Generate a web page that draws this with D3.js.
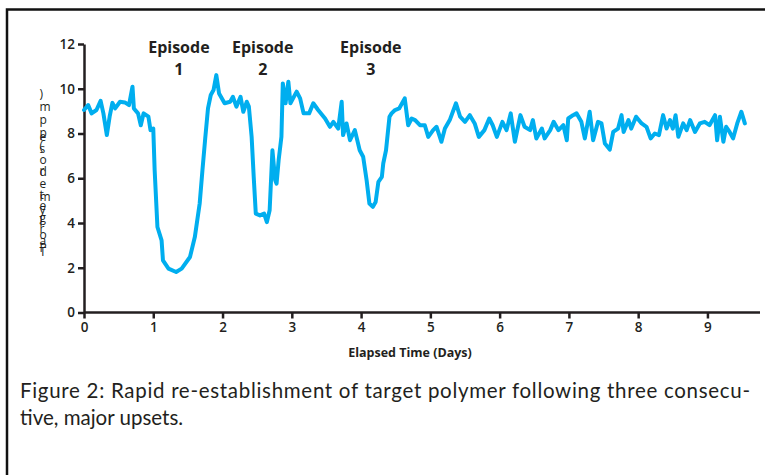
<!DOCTYPE html>
<html>
<head>
<meta charset="utf-8">
<script src="https://cdnjs.cloudflare.com/ajax/libs/d3/7.8.5/d3.min.js"></script>
<style>
  body { margin: 0; background: #fff; }
  text { font-family: "Open Sans", Lato, sans-serif; fill: #231f20; }
</style>
</head>
<body>
<div id="chart"></div>
<script>
// elapsed time (days) and polymer level (ppm)
const days = [0, 0.06, 0.11, 0.18, 0.24, 0.28, 0.33, 0.37, 0.41, 0.45, 0.52, 0.59, 0.65, 0.70, 0.72, 0.78, 0.82, 0.86, 0.93, 0.96,
  1.0, 1.02, 1.06, 1.12, 1.14, 1.22, 1.33, 1.41, 1.53, 1.60, 1.67, 1.71, 1.75, 1.79, 1.83, 1.87, 1.91, 1.95,
  2.03, 2.11, 2.15, 2.20, 2.26, 2.30, 2.35, 2.38, 2.42, 2.45, 2.48, 2.54, 2.60, 2.64, 2.68, 2.72, 2.76, 2.78, 2.81, 2.85, 2.87, 2.91, 2.95, 2.98,
  3.07, 3.12, 3.17, 3.25, 3.31, 3.38, 3.48, 3.55, 3.60, 3.67, 3.72, 3.74, 3.79, 3.84, 3.91, 3.98,
  4.03, 4.08, 4.12, 4.17, 4.21, 4.25, 4.30, 4.32, 4.36, 4.41, 4.44, 4.49, 4.55, 4.63, 4.68, 4.73, 4.78, 4.85, 4.92, 4.97,
  5.04, 5.09, 5.16, 5.21, 5.28, 5.37, 5.43, 5.50, 5.57, 5.64, 5.70, 5.78, 5.85, 5.90, 5.96,
  6.04, 6.10, 6.16, 6.22, 6.30, 6.36, 6.44, 6.48, 6.53, 6.61, 6.65, 6.73, 6.78, 6.85, 6.92, 6.97, 6.99,
  7.06, 7.11, 7.18, 7.23, 7.30, 7.35, 7.42, 7.47, 7.52, 7.59, 7.64, 7.71, 7.76, 7.79, 7.86, 7.90, 7.97,
  8.05, 8.12, 8.18, 8.24, 8.30, 8.36, 8.41, 8.46, 8.50, 8.54, 8.58, 8.65, 8.70, 8.75, 8.82, 8.89, 8.96,
  9.03, 9.11, 9.14, 9.18, 9.23, 9.27, 9.32, 9.37, 9.43, 9.49, 9.54];
const ppm = [9.05, 9.27, 8.9, 9.05, 9.46, 8.9, 7.93, 8.75, 9.37, 9.12, 9.42, 9.39, 9.27, 10.09, 9.12, 8.9, 8.37, 8.9, 8.75, 8.15,
  8.22, 6.36, 3.82, 3.22, 2.33, 1.96, 1.81, 1.96, 2.48, 3.37, 4.87, 6.36, 7.78, 9.12, 9.72, 9.94, 10.61, 9.79,
  9.35, 9.42, 9.64, 9.2, 9.64, 8.97, 9.42, 9.2, 7.85, 6.06, 4.42, 4.34, 4.42, 4.04, 4.57, 7.25, 5.91, 5.76, 6.81, 7.85, 10.24, 9.35, 10.31, 9.35,
  9.87, 9.57, 8.9, 8.9, 9.35, 9.05, 8.67, 8.3, 8.52, 8.22, 9.42, 7.93, 8.45, 7.7, 8.15, 7.25,
  6.96, 5.91, 4.87, 4.72, 4.94, 5.84, 6.06, 6.66, 7.25, 8.75, 8.9, 9.05, 9.12, 9.57, 8.37, 8.67, 8.6, 8.37, 8.37, 7.85,
  8.15, 8.3, 7.63, 8.22, 8.6, 9.35, 8.75, 8.52, 8.82, 8.45, 7.85, 8.15, 8.67, 8.37, 7.85,
  8.52, 8.15, 8.9, 7.63, 8.82, 8.3, 8.15, 8.6, 7.78, 8.22, 7.78, 8.15, 8.52, 8.15, 8.37, 7.7, 8.67,
  8.82, 8.9, 8.52, 7.78, 8.97, 7.7, 8.52, 8.45, 7.55, 7.28, 8.07, 8.22, 8.82, 8.07, 8.6, 8.22, 8.75,
  8.45, 8.3, 7.78, 8.0, 7.93, 8.82, 8.22, 8.6, 8.22, 8.82, 7.85, 8.45, 8.15, 8.6, 8.07, 8.45, 8.52,
  8.37, 8.82, 7.7, 8.75, 7.63, 8.3, 8.07, 7.78, 8.45, 8.97, 8.45];

const xTicks = [0, 1, 2, 3, 4, 5, 6, 7, 8, 9];
const yTicks = [0, 2, 4, 6, 8, 10, 12];
const episodeNames = ['Episode', 'Episode', 'Episode'];
const episodeNums = ['1', '2', '3'];
const episodeDays = [1.37, 2.58, 4.14];
const yLabelA = 'Polymer (ppm)';
const yLabelB = 'Target dose';
const xTitle = 'Elapsed Time (Days)';
const captionLines = ['Figure 2: Rapid re-establishment of target polymer following three consecu-',
  'tive, major upsets.'];

const W = 765, H = 475;
const svg = d3.select('#chart').append('svg')
    .attr('width', W)
    .attr('height', H);

// frame
svg.append('path')
    .attr('d', 'M7,475 V9.5 H765')
    .attr('fill', 'none')
    .attr('stroke', '#111')
    .attr('stroke-width', 2.5);

const x = d3.scaleLinear().domain([0, 9.6]).range([84, 749]);
const y = d3.scaleLinear().domain([0, 12]).range([312.5, 44]);

// axes
const xAxis = svg.append('g')
    .attr('transform', 'translate(0,312.5)')
    .call(d3.axisBottom(x).tickValues(xTicks).tickSize(6).tickSizeOuter(0));
xAxis.select('.domain').attr('d', 'M84,0H760');
const yAxis = svg.append('g')
    .attr('transform', 'translate(84,0)')
    .call(d3.axisLeft(y).tickValues(yTicks).tickSize(6).tickSizeOuter(0));

svg.selectAll('.domain, .tick line')
    .attr('stroke', '#231f20')
    .attr('stroke-width', 2.5);
svg.selectAll('.tick text')
    .style('font-family', '"Open Sans", sans-serif')
    .style('font-size', '13.5px')
    .style('font-weight', '600')
    .attr('fill', '#231f20');
xAxis.selectAll('.tick text').attr('y', 10);
yAxis.selectAll('.tick text').attr('x', -9);

svg.append('text')
    .attr('x', 410)
    .attr('y', 357)
    .attr('text-anchor', 'middle')
    .style('font-size', '12.5px')
    .style('font-weight', 'bold')
    .text(xTitle);

// y label: upright letters stacked bottom to top, two overlapping strings
function stackLetters(str, bottom, step) {
    svg.append('text')
        .attr('transform', `translate(39.5,${bottom}) rotate(-90)`)
        .attr('x', str.split('').map((c, i) => i * step).join(' '))
        .attr('y', 0)
        .attr('rotate', 90)
        .style('font-size', '12px')
        .style('fill', '#231f20')
        .text(str);
}
stackLetters(yLabelA, 252, 12.8);
stackLetters(yLabelB, 256, 11.5);

// series
const pts = days.map((d, i) => [d, ppm[i]]);
svg.append('path')
    .datum(pts)
    .attr('fill', 'none')
    .attr('stroke', '#00aeef')
    .attr('stroke-width', 4)
    .attr('stroke-linejoin', 'round')
    .attr('stroke-linecap', 'round')
    .attr('d', d3.line().x(d => x(d[0])).y(d => y(d[1])));

// episode labels
const ep = svg.append('g').selectAll('g')
    .data(episodeDays)
    .enter().append('g');
ep.append('text')
    .attr('x', d => x(d))
    .attr('y', 53)
    .attr('text-anchor', 'middle')
    .style('font-size', '16px')
    .style('font-weight', 'bold')
    .text((d, i) => episodeNames[i]);
ep.append('text')
    .attr('x', d => x(d))
    .attr('y', 75)
    .attr('text-anchor', 'middle')
    .style('font-size', '16px')
    .style('font-weight', 'bold')
    .text((d, i) => episodeNums[i]);

// caption
svg.append('g').selectAll('text')
    .data(captionLines)
    .enter().append('text')
    .attr('x', 20)
    .attr('y', (d, i) => 398 + i * 27)
    .style('font-family', 'Lato, sans-serif')
    .style('font-size', '20.5px')
    .attr('textLength', (d, i) => i === 0 ? 730 : null)
    .attr('lengthAdjust', 'spacing')
    .text(d => d);
</script>
</body>
</html>
